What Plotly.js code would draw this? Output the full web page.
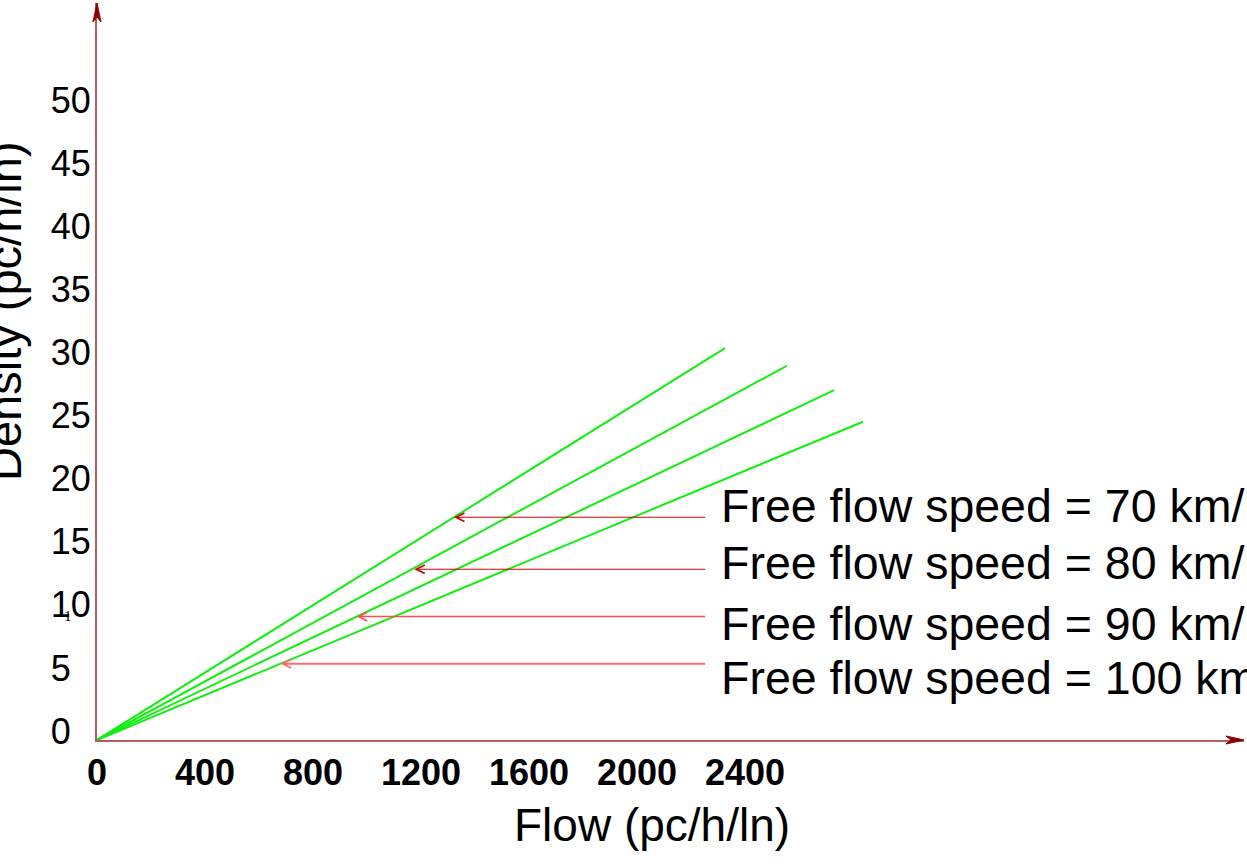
<!DOCTYPE html>
<html>
<head>
<meta charset="utf-8">
<script src="https://cdn.plot.ly/plotly-3.0.1.min.js"></script>
<style>html,body{margin:0;padding:0;background:#fff;}#chart{width:1247px;height:865px;}</style>
</head>
<body>
<div id="chart"></div>
<script>
// ---- data ----
const speeds = [70, 80, 90, 100];                 // free flow speed, km/h
const endFlow = [2326, 2554, 2730, 2837];         // flow (pc/h/ln) at end of each line
const endDensity = [31.06, 29.64, 27.73, 25.22];  // density at end of each line
const arrowFlow = [1322, 1175, 962, 680];         // arrow tips on each line
const arrowDensity = [17.65, 13.53, 9.78, 6.05];
const arrowTailFlow = 2258;
const labelFlow = 2304;
const labelDensity = [18.54, 14.0, 9.2, 4.95];
const xTickVals = [0, 400, 800, 1200, 1600, 2000, 2400];
const xTickText = ['0', '400', '800', '1200', '1600', '2000', '2400'];
const yTickVals = [0, 5, 10, 15, 20, 25, 30, 35, 40, 45, 50];
const yTickText = yTickVals.map(v => v < 10 ? v + '\u00a0\u00a0' : String(v));
const xTitle = 'Flow (pc/h/ln)';
const yTitle = 'Density (pc/h/ln)';

// ---- styling ----
const FONT = 'Liberation Sans, Arial, Helvetica, sans-serif';
const arrowColors = ['#d00000', '#d00000', '#ff4d4d', '#ff6a6a'];
const arrowWidths = [1, 1, 1.5, 2];
const AXIS_COLOR = 'rgb(180,95,95)';
const HEAD_COLOR = '#8b0000';

const W = 1244 - 97, H = 740 - 3;

const traces = speeds.map((s, i) => ({
  type: 'scatter', mode: 'lines',
  x: [0, endFlow[i]], y: [0, endDensity[i]],
  line: {color: '#11ee11', width: 2},
  name: 'Free flow speed = ' + s + ' km/h',
  hoverinfo: 'skip'
}));

const annotations = [];
speeds.forEach((s, i) => {
  annotations.push({
    x: arrowFlow[i], y: arrowDensity[i], xref: 'x', yref: 'y',
    ax: arrowTailFlow, ay: arrowDensity[i], axref: 'x', ayref: 'y',
    text: '', showarrow: true, arrowhead: 5,
    arrowsize: 1.7 / arrowWidths[i], arrowwidth: arrowWidths[i],
    arrowcolor: arrowColors[i], standoff: 0, startstandoff: 0
  });
  annotations.push({
    x: labelFlow, y: labelDensity[i], xref: 'x', yref: 'y',
    xanchor: 'left', yanchor: 'middle', showarrow: false,
    text: 'Free flow speed = ' + s + ' km/h',
    font: {family: FONT, size: 46.5, color: '#000'}
  });
});
// axis titles
annotations.push({
  x: (651.5 - 97) / W, y: (740 - 825) / H, xref: 'paper', yref: 'paper',
  xanchor: 'center', yanchor: 'middle', showarrow: false, text: xTitle,
  font: {family: FONT, size: 46, color: '#000'}
});
annotations.push({
  x: (4.5 - 97) / W, y: (740 - 311.5) / H, xref: 'paper', yref: 'paper',
  xanchor: 'center', yanchor: 'middle', showarrow: false, text: yTitle,
  textangle: -90,
  font: {family: FONT, size: 47, color: '#000'}
});
// small stray glyph next to the "10" tick label in the original
annotations.push({
  x: (68 - 97) / W, y: (740 - 616) / H, xref: 'paper', yref: 'paper',
  showarrow: false, text: '1', xanchor: 'center', yanchor: 'middle',
  font: {family: 'Liberation Serif, serif', size: 15, color: '#000'}
});

const shapes = [
  { // x axis arrowhead
    type: 'path', xref: 'paper', yref: 'paper',
    path: `M 1,0 L ${1 - 18 / W},${4 / H} L ${1 - 13 / W},0 L ${1 - 18 / W},${-4 / H} Z`,
    fillcolor: HEAD_COLOR, line: {color: HEAD_COLOR, width: 1}
  },
  { // y axis arrowhead
    type: 'path', xref: 'paper', yref: 'paper',
    path: `M 0,1 L ${-4 / W},${1 - 19 / H} L 0,${1 - 14 / H} L ${4 / W},${1 - 19 / H} Z`,
    fillcolor: HEAD_COLOR, line: {color: HEAD_COLOR, width: 1}
  }
];

const layout = {
  width: 1247, height: 865,
  margin: {l: 97, r: 3, t: 3, b: 125, pad: 0},
  paper_bgcolor: '#fff', plot_bgcolor: '#fff',
  showlegend: false,
  font: {family: FONT, color: '#000'},
  xaxis: {
    range: [0, 4248], showgrid: false, zeroline: false,
    showline: true, linecolor: AXIS_COLOR, linewidth: 2,
    ticks: '', tickvals: xTickVals, ticktext: xTickText,
    tickfont: {family: FONT, size: 36, weight: 'bold', color: '#000'}
  },
  yaxis: {
    range: [0, 58.4], showgrid: false, zeroline: false,
    showline: true, linecolor: AXIS_COLOR, linewidth: 2,
    ticks: '', tickvals: yTickVals, ticktext: yTickText,
    ticklabelshift: -9, ticklabelstandoff: -3,
    tickfont: {family: FONT, size: 36, color: '#000'}
  },
  annotations: annotations,
  shapes: shapes
};

Plotly.newPlot('chart', traces, layout, {staticPlot: true, displayModeBar: false});
</script>
</body>
</html>
